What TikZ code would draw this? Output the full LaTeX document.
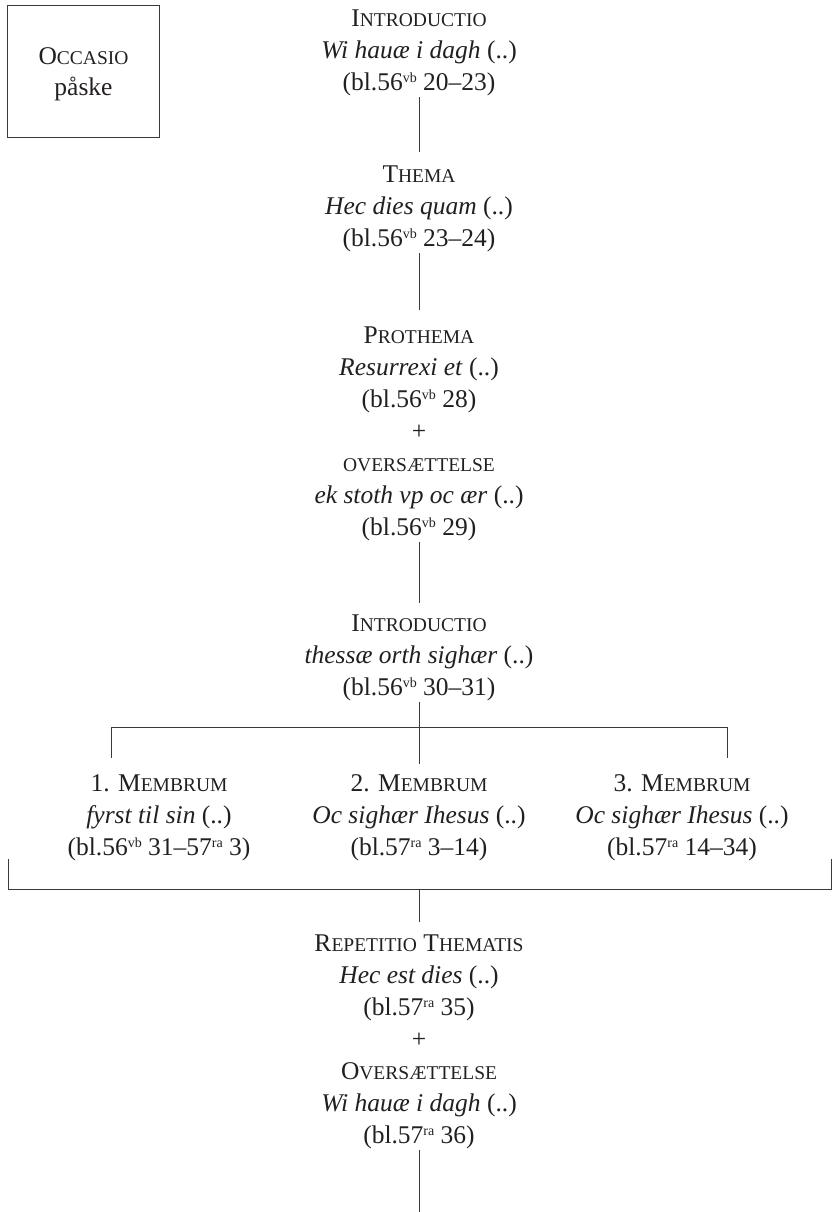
\documentclass[tikz,border=0pt]{standalone}
\usepackage{fontspec}
\setmainfont{Liberation Serif}
\newcommand{\smc}[1]{{\fontsize{19.5}{19.5}\selectfont #1}}
\newcommand{\sps}[1]{\raisebox{7.5pt}{\fontsize{14}{14}\selectfont #1}}
\newcommand{\ls}{\rule[-7pt]{0pt}{32pt}}
\definecolor{ink}{HTML}{231F20}
\definecolor{rule}{HTML}{3A3A3A}
\begin{document}
\begin{tikzpicture}[x=1pt,y=-1pt,
  blk/.style={anchor=north, inner sep=0pt, align=center, text=ink, font=\fontsize{25.5}{32}\selectfont},
  conn/.style={draw=rule, line width=0.8pt},
  occbox/.style={draw=rule, line width=0.8pt, minimum width=152pt, minimum height=132pt, inner sep=0pt, align=center, text=ink, font=\fontsize{25.5}{32}\selectfont}]
\useasboundingbox (0,0) rectangle (833,1212);

\node[occbox] (occ) at (83.5,71) {\ls O\smc{CCASIO}\\ \ls påske};

\node[blk] (intro1) at (419,1) {\ls I\smc{NTRODUCTIO}\\ \ls\textit{Wi hauæ i dagh} (..)\\ \ls(bl.56\sps{vb} 20–23)};
\node[blk] (thema) at (419,157) {\ls T\smc{HEMA}\\ \ls\textit{Hec dies quam} (..)\\ \ls(bl.56\sps{vb} 23–24)};
\node[blk] (proth) at (419,318) {\ls P\smc{ROTHEMA}\\ \ls\textit{Resurrexi et} (..)\\ \ls(bl.56\sps{vb} 28)\\ \ls+\\ \ls\smc{OVERSÆTTELSE}\\ \ls\textit{ek stoth vp oc ær} (..)\\ \ls(bl.56\sps{vb} 29)};
\node[blk] (intro2) at (419,606) {\ls I\smc{NTRODUCTIO}\\ \ls\textit{thessæ orth sighær} (..)\\ \ls(bl.56\sps{vb} 30–31)};
\node[blk] (m1) at (159,766) {\ls 1. M\smc{EMBRUM}\\ \ls\textit{fyrst til sin} (..)\\ \ls(bl.56\sps{vb} 31–57\sps{ra} 3)};
\node[blk] (m2) at (419,766) {\ls 2. M\smc{EMBRUM}\\ \ls\textit{Oc sighær Ihesus} (..)\\ \ls(bl.57\sps{ra} 3–14)};
\node[blk] (m3) at (682,766) {\ls 3. M\smc{EMBRUM}\\ \ls\textit{Oc sighær Ihesus} (..)\\ \ls(bl.57\sps{ra} 14–34)};
\node[blk] (rep) at (419,926) {\ls R\smc{EPETITIO} T\smc{HEMATIS}\\ \ls\textit{Hec est dies} (..)\\ \ls(bl.57\sps{ra} 35)\\ \ls+\\ \ls O\smc{VERSÆTTELSE}\\ \ls\textit{Wi hauæ i dagh} (..)\\ \ls(bl.57\sps{ra} 36)};

\coordinate (hl) at (111,727);
\coordinate (hr) at (727,727);
\coordinate (hl2) at (111,758);
\coordinate (hr2) at (727,758);
\coordinate (bkl) at (8,859);
\coordinate (bkbl) at (8,889);
\coordinate (bkbr) at (831,889);
\coordinate (bkr) at (831,859);
\coordinate (bkm) at (419,889);
\coordinate (end) at (419,1212);

\draw[conn] (intro1.south) -- ([yshift=5pt]thema.north);
\draw[conn] (thema.south) -- ([yshift=8pt]proth.north);
\draw[conn] (proth.south) -- ([yshift=3pt]intro2.north);
\draw[conn] (intro2.south) -- ([yshift=2pt]m2.north);
\draw[conn] (hl) -- (hr);
\draw[conn] (hl) -- (hl2);
\draw[conn] (hr) -- (hr2);
\draw[conn] (bkl) -- (bkbl) -- (bkbr) -- (bkr);
\draw[conn] (bkm) -- ([yshift=4pt]rep.north);
\draw[conn] (rep.south) -- (end);
\end{tikzpicture}
\end{document}
